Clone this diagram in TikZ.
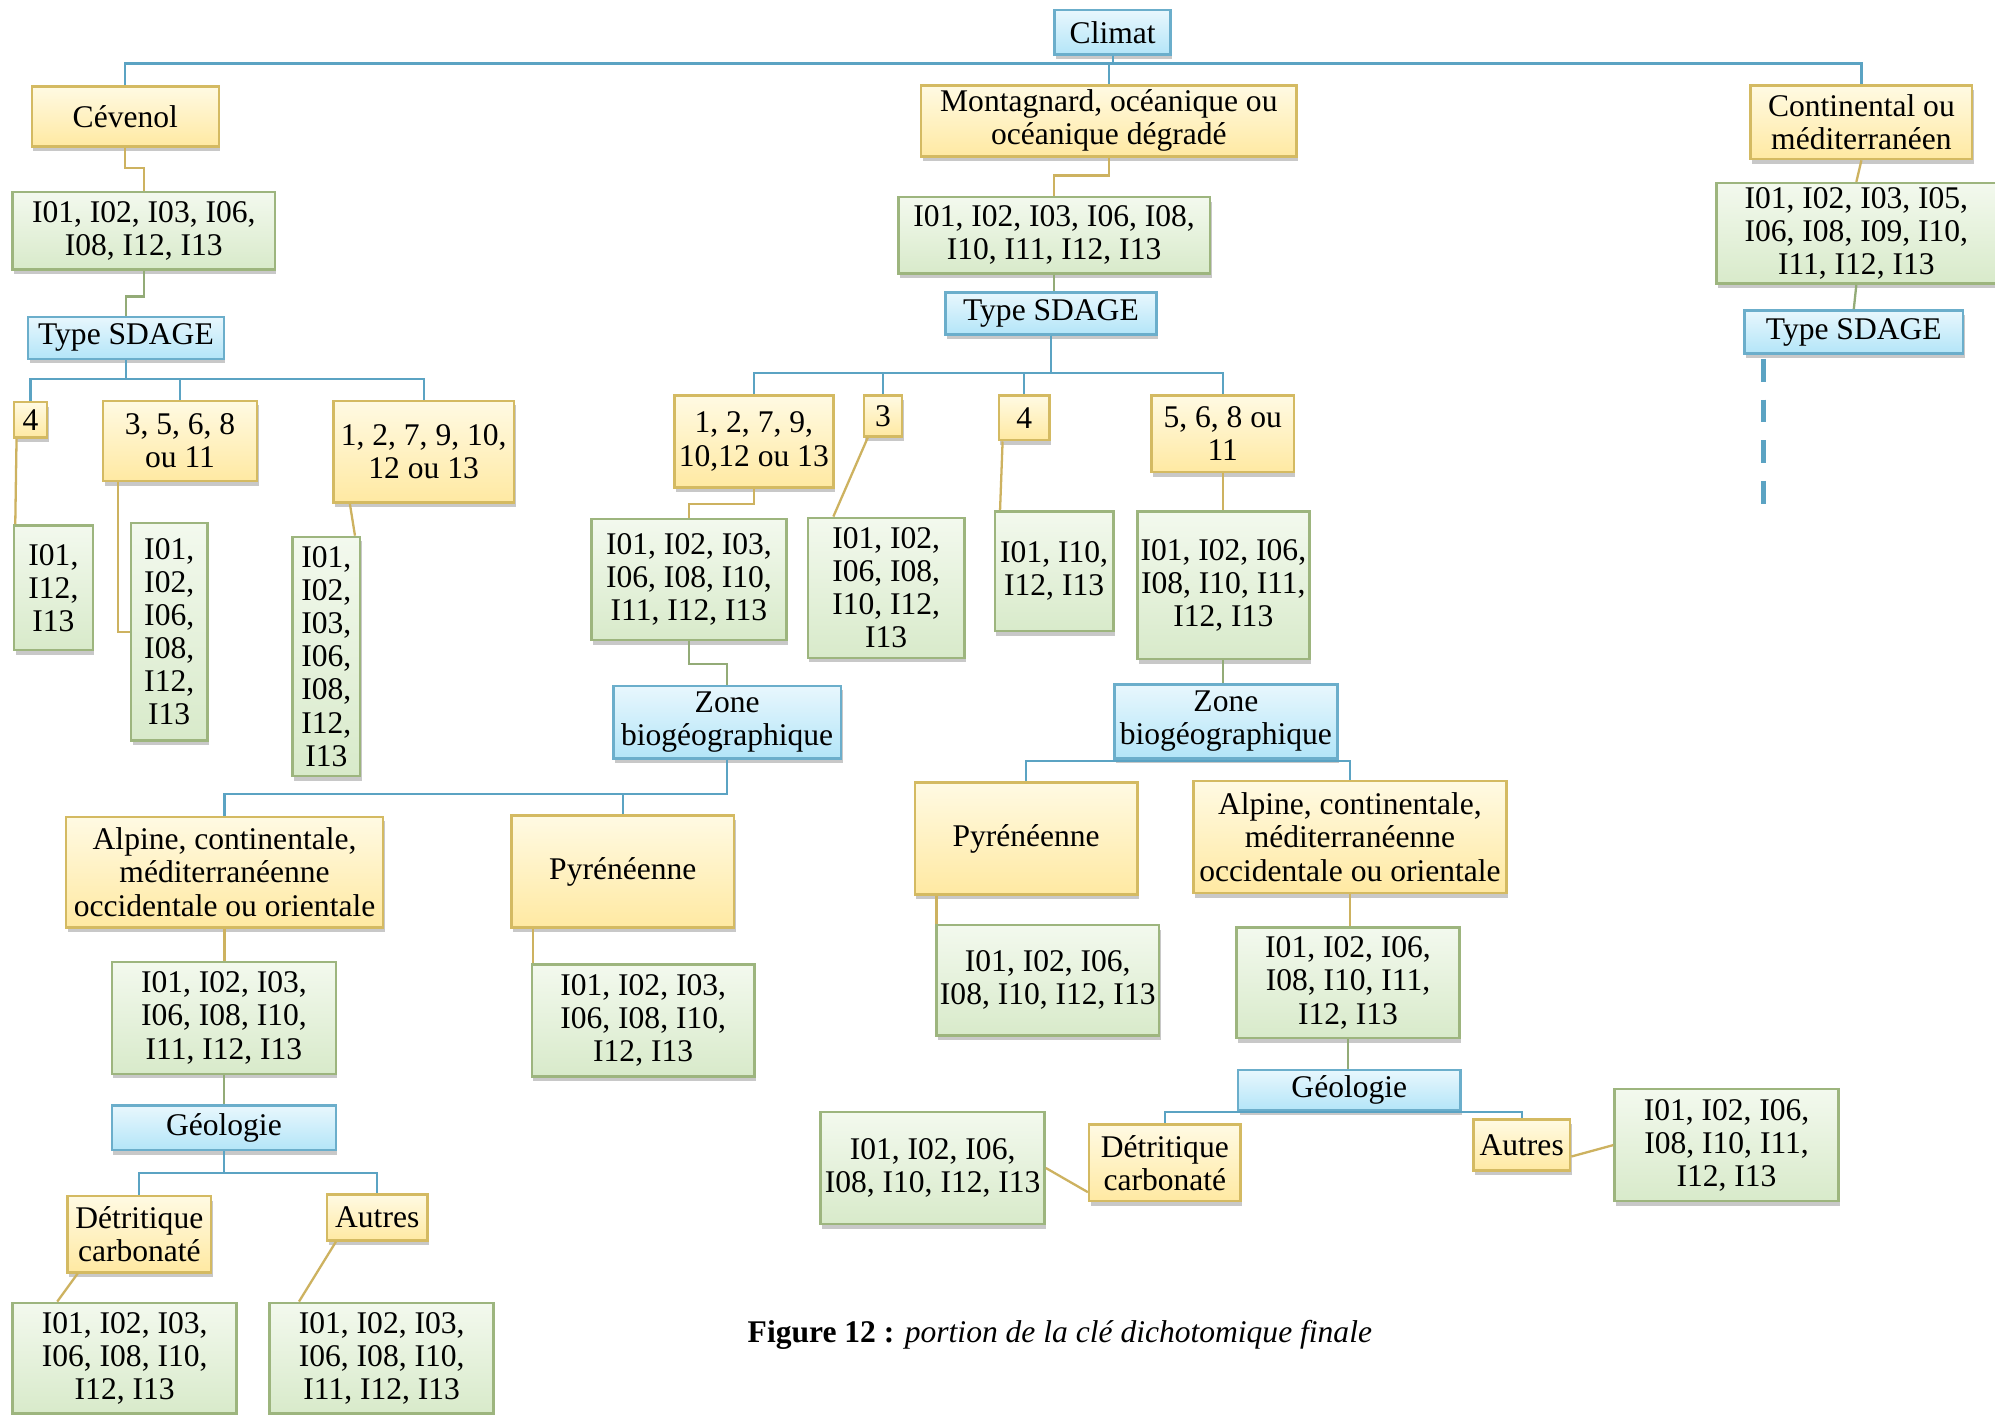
\documentclass[tikz,border=0pt]{standalone}
\usepackage{fontspec}
\setmainfont{Liberation Serif}
\usetikzlibrary{shadows,calc}
\definecolor{btop}{HTML}{E8F7FD}
\definecolor{bbot}{HTML}{B3E5F8}
\definecolor{bdraw}{HTML}{6BAECB}
\definecolor{ytop}{HTML}{FFFAE3}
\definecolor{ybot}{HTML}{FFE9A2}
\definecolor{ydraw}{HTML}{D4BA62}
\definecolor{gtop}{HTML}{F3F9EE}
\definecolor{gbot}{HTML}{D8EACA}
\definecolor{gdraw}{HTML}{9DB57E}
\definecolor{blc}{HTML}{5BA3C3}
\definecolor{ylc}{HTML}{CDB260}
\definecolor{glc}{HTML}{93AB77}
\newcommand\bx[7]{\node[#1,minimum width={(#5-#3)*0.5pt},minimum height={(#6-#4)*0.5pt}] (#2) at ({(#3+#5)/2},{(#4+#6)/2}) {#7};}
\begin{document}
\begin{tikzpicture}[x=0.5pt,y=-0.5pt,
  boxbase/.style={rectangle,align=center,inner sep=1pt,line width=1pt,
    font=\fontsize{12.4}{13}\selectfont,
    drop shadow={shadow xshift=0.6pt,shadow yshift=-1.8pt,opacity=0.3,fill=black!70}},
  bluebox/.style={boxbase,draw=bdraw,top color=btop,bottom color=bbot},
  yelbox/.style={boxbase,draw=ydraw,top color=ytop,bottom color=ybot},
  grnbox/.style={boxbase,draw=gdraw,top color=gtop,bottom color=gbot},
  bline/.style={draw=blc,line width=0.9pt},
  yline/.style={draw=ylc,line width=0.9pt},
  gline/.style={draw=glc,line width=0.9pt},
  dashline/.style={draw=blc,line width=2.3pt,dash pattern=on 9pt off 7pt}]
\useasboundingbox[fill=white] (0,0) rectangle (1568,1112);
% blue
\bx{bluebox}{clim}{829}{8}{920}{43}{Climat}
\bx{bluebox}{sdL}{22}{249}{176}{282}{Type SDAGE}
\bx{bluebox}{sdM}{743}{230}{909}{263}{Type SDAGE}
\bx{bluebox}{sdR}{1371}{244}{1543}{278}{Type SDAGE}
\bx{bluebox}{zoneL}{482}{539}{661}{596}{Zone\\biogéographique}
\bx{bluebox}{zoneR}{876}{538}{1051}{596}{Zone\\biogéographique}
\bx{bluebox}{geoL}{88}{869}{264}{904}{Géologie}
\bx{bluebox}{geoR}{973}{841}{1148}{873}{Géologie}
% yellow
\bx{yelbox}{cev}{25}{68}{172}{115}{Cévenol}
\bx{yelbox}{mont}{724}{67}{1019}{123}{Montagnard, océanique ou\\océanique dégradé}
\bx{yelbox}{cont}{1376}{67}{1550}{125}{Continental ou\\méditerranéen}
\bx{yelbox}{c4}{11}{316}{37}{344}{4}
\bx{yelbox}{c358}{81}{315}{202}{378}{3, 5, 6, 8\\ou 11}
\bx{yelbox}{c127}{262}{315}{404}{395}{1, 2, 7, 9, 10,\\12 ou 13}
\bx{yelbox}{m127}{530}{311}{655}{383}{1, 2, 7, 9,\\10,12 ou 13}
\bx{yelbox}{m3}{679}{311}{709}{343}{3}
\bx{yelbox}{m4}{785}{311}{825}{346}{4}
\bx{yelbox}{m568}{905}{311}{1017}{371}{5, 6, 8 ou\\11}
\bx{yelbox}{alpL}{52}{642}{301}{729}{Alpine, continentale,\\méditerranéenne\\occidentale ou orientale}
\bx{yelbox}{pyrL}{402}{641}{577}{729}{Pyrénéenne}
\bx{yelbox}{pyrR}{719}{615}{894}{703}{Pyrénéenne}
\bx{yelbox}{alpR}{938}{614}{1184}{702}{Alpine, continentale,\\méditerranéenne\\occidentale ou orientale}
\bx{yelbox}{detL}{53}{940}{166}{1000}{Détritique\\carbonaté}
\bx{yelbox}{autL}{257}{939}{336}{975}{Autres}
\bx{yelbox}{detR}{856}{884}{975}{944}{Détritique\\carbonaté}
\bx{yelbox}{autR}{1158}{880}{1234}{920}{Autres}
% green
\bx{grnbox}{cevI}{10}{151}{216}{212}{I01, I02, I03, I06,\\I08, I12, I13}
\bx{grnbox}{montI}{706}{155}{951}{215}{I01, I02, I03, I06, I08,\\I10, I11, I12, I13}
\bx{grnbox}{contI}{1349}{144}{1569}{223}{I01, I02, I03, I05,\\I06, I08, I09, I10,\\I11, I12, I13}
\bx{grnbox}{g4}{11}{413}{73}{511}{I01,\\I12,\\I13}
\bx{grnbox}{g358}{103}{411}{163}{582}{I01,\\I02,\\I06,\\I08,\\I12,\\I13}
\bx{grnbox}{g127}{230}{422}{283}{610}{I01,\\I02,\\I03,\\I06,\\I08,\\I12,\\I13}
\bx{grnbox}{mg127}{465}{408}{618}{503}{I01, I02, I03,\\I06, I08, I10,\\I11, I12, I13}
\bx{grnbox}{mg3}{635}{407}{758}{517}{I01, I02,\\I06, I08,\\I10, I12,\\I13}
\bx{grnbox}{mg4}{782}{402}{875}{496}{I01, I10,\\I12, I13}
\bx{grnbox}{mg568}{894}{402}{1029}{518}{I01, I02, I06,\\I08, I10, I11,\\I12, I13}
\bx{grnbox}{galpL}{88}{756}{264}{844}{I01, I02, I03,\\I06, I08, I10,\\I11, I12, I13}
\bx{grnbox}{gpyrL}{418}{758}{593}{846}{I01, I02, I03,\\I06, I08, I10,\\I12, I13}
\bx{grnbox}{gpyrR}{736}{727}{911}{814}{I01, I02, I06,\\I08, I10, I12, I13}
\bx{grnbox}{galpR}{972}{729}{1147}{816}{I01, I02, I06,\\I08, I10, I11,\\I12, I13}
\bx{grnbox}{gdetL}{10}{1024}{186}{1111}{I01, I02, I03,\\I06, I08, I10,\\I12, I13}
\bx{grnbox}{gautL}{212}{1024}{388}{1111}{I01, I02, I03,\\I06, I08, I10,\\I11, I12, I13}
\bx{grnbox}{gdetR}{645}{874}{821}{962}{I01, I02, I06,\\I08, I10, I12, I13}
\bx{grnbox}{gautR}{1269}{856}{1445}{944}{I01, I02, I06,\\I08, I10, I11,\\I12, I13}
% caption
\node[font=\fontsize{12.4}{13}\selectfont] (cap) at (833,1049) {\textbf{Figure 12 :} \textit{portion de la clé dichotomique finale}};
% connectors
\draw[bline] (clim.south) -- ++(0,6) -| (cev.north);
\draw[bline] (clim.south) -- ++(0,6) -| (cont.north);
\draw[bline] (clim.south) -- ++(0,6) -| (mont.north);
\draw[yline] (cev.south) -- ++(0,16) -| (cevI.north);
\draw[gline] (cevI.south) -- ++(0,20) -| (sdL.north);
\foreach \n in {c4,c358,c127} \draw[bline] (sdL.south) -- ++(0,15) -| (\n.north);
\draw[yline] ($(c4.south west)+(3,0)$) -- ($(g4.north west)+(2,0)$);
\draw[yline] ($(c358.south west)+(13,0)$) |- (g358.west);
\draw[yline] ($(c127.south west)+(14,0)$) -- ($(g127.north east)+(-5,0)$);
\draw[yline] (mont.south) -- ++(0,14) -| (montI.north);
\draw[gline] (montI.south) -- (montI.south |- sdM.north);
\foreach \n in {m127,m3,m4,m568} \draw[bline] (sdM.south) -- ++(0,29) -| (\n.north);
\draw[yline] (m127.south) -- ++(0,12) -| (mg127.north);
\draw[yline] ($(m3.south west)+(4,0)$) -- ($(mg3.north west)+(21,0)$);
\draw[yline] ($(m4.south west)+(4,0)$) -- ($(mg4.north west)+(5,0)$);
\draw[yline] (m568.south) -- (m568.south |- mg568.north);
\draw[gline] (mg127.south) -- ++(0,18) -| (zoneL.north);
\draw[gline] (mg568.south) -- (mg568.south |- zoneR.north);
\foreach \n in {alpL,pyrL} \draw[bline] (zoneL.south) -- ++(0,27) -| (\n.north);
\foreach \n in {pyrR,alpR} \draw[bline] (zoneR.south) -- ++(0,1) -| (\n.north);
\draw[yline] (alpL.south) -- (alpL.south |- galpL.north);
\coordinate (a1) at ($(pyrL.south west)+(18,0)$);
\draw[yline] (a1) -- (a1 |- gpyrL.north);
\coordinate (a2) at ($(pyrR.south west)+(18,0)$);
\draw[yline] (a2) -- (a2 |- gpyrR.north);
\draw[yline] (alpR.south) -- (alpR.south |- galpR.north);
\draw[gline] (galpL.south) -- (galpL.south |- geoL.north);
\draw[gline] (galpR.south) -- (galpR.south |- geoR.north);
\foreach \n in {detL,autL} \draw[bline] (geoL.south) -- ++(0,17) -| (\n.north);
\foreach \n in {detR,autR} \draw[bline] (geoR.south) -| (\n.north);
\draw[yline] ($(detL.south west)+(9,0)$) -- ($(gdetL.north west)+(36,0)$);
\draw[yline] ($(autL.south west)+(8,0)$) -- ($(gautL.north west)+(24,0)$);
\draw[yline] ($(detR.south west)+(0,-8)$) -- (gdetR.east);
\draw[yline] ($(autR.south east)+(0,-12)$) -- (gautR.west);
\draw[yline] (cont.south) -- (contI.north);
\draw[gline] (contI.south) -- (sdR.north);
\coordinate (dstart) at ($(sdR.south west)+(16,3)$);
\draw[dashline] (dstart) -- ++(0,114);
\end{tikzpicture}
\end{document}
